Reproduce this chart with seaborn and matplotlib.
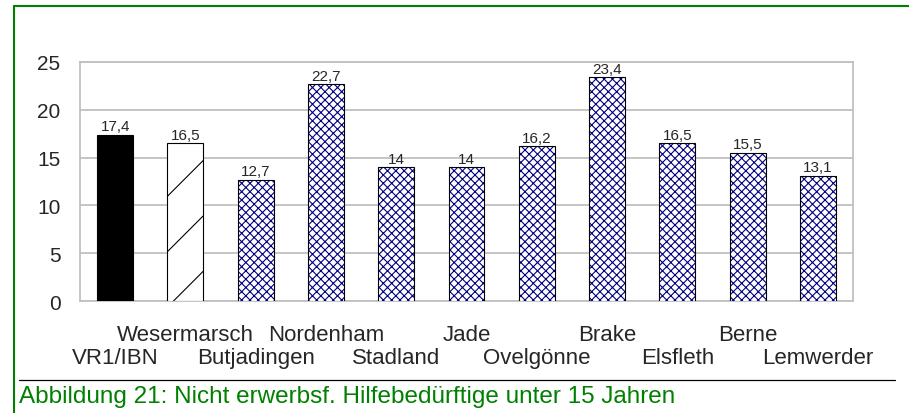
import numpy as np
import pandas as pd
import matplotlib
matplotlib.use("Agg")
import matplotlib.pyplot as plt
from matplotlib.patches import Rectangle
from matplotlib.lines import Line2D
from matplotlib.transforms import IdentityTransform
import seaborn as sns

# Data
CATEGORIES = ["VR1/IBN", "Wesermarsch", "Butjadingen", "Nordenham", "Stadland",
              "Jade", "Ovelgönne", "Brake", "Elsfleth", "Berne", "Lemwerder"]
VALUES = [17.4, 16.5, 12.7, 22.7, 14, 14, 16.2, 23.4, 16.5, 15.5, 13.1]
Y_TICKS = [0, 5, 10, 15, 20, 25]
CAPTION = "Abbildung 21: Nicht erwerbsf. Hilfebedürftige unter 15 Jahren"

# Style
W, H = 909, 414
GREEN = "#008000"
NAVY = "#000080"
GRID = "#c0c0c0"

sns.set_style("white")
plt.rcParams["font.family"] = ["Liberation Sans", "DejaVu Sans"]
plt.rcParams["hatch.linewidth"] = 0.8

fig = plt.figure(figsize=(W / 100, H / 100), dpi=100)
ax = fig.add_axes([80 / W, 1 - 302 / H, 773 / W, 239 / H])

df = pd.DataFrame({"name": CATEGORIES, "value": VALUES})
sns.barplot(data=df, x="name", y="value", color="white", width=0.51,
            edgecolor="black", linewidth=0.8, saturation=1, ax=ax, zorder=3)

ax.set_ylim(0, 25)
ax.set_xlim(-0.5, len(CATEGORIES) - 0.5)
ax.set_yticks(Y_TICKS)
ax.yaxis.grid(True, color=GRID, linewidth=1.3, zorder=0)
ax.set_axisbelow(True)
for sp in ax.spines.values():
    sp.set_visible(True)
    sp.set_color(GRID)
    sp.set_linewidth(1.3)
ax.tick_params(axis="y", length=8, width=1.3, color=GRID, pad=6, labelsize=15)
ax.tick_params(axis="x", length=7, width=1.0, color=GRID, labelsize=16)
ax.set_xlabel("")
ax.set_ylabel("")

# two-row category labels: odd ones on the upper row, even ones below
ax.set_xticks(range(len(CATEGORIES)))
ax.set_xticklabels(CATEGORIES)
for i, tick in enumerate(ax.xaxis.get_major_ticks()):
    tick.set_pad(26 if i % 2 == 0 else 9.5)

bars = list(ax.containers[0])
fig.canvas.draw()
for i, bar in enumerate(bars):
    if i == 0:
        bar.set_facecolor("black")
    elif i == 1:
        # sparse diagonal lines, clipped to the bar
        (x0, y0), (x1, y1) = ax.transData.transform(
            [(bar.get_x(), 0), (bar.get_x() + bar.get_width(), bar.get_height())])
        step, off = 55.4, -6
        k = 0
        while y0 + off + k * step < y1:
            b = y0 + off + k * step
            ln = Line2D([x0, x1], [b, b + (x1 - x0)], transform=IdentityTransform(),
                        color="black", linewidth=0.8, zorder=4)
            ln.set_clip_path(bar)
            fig.add_artist(ln)
            k += 1
    else:
        bar.set_hatch("xxxx")
        bar.set_edgecolor(NAVY)
        bar.set_linewidth(0)
        ax.add_patch(Rectangle((bar.get_x(), 0), bar.get_width(), bar.get_height(),
                               fill=False, edgecolor="black", linewidth=0.8, zorder=4))

labels = [f"{v:g}".replace(".", ",") for v in VALUES]
ax.bar_label(ax.containers[0], labels=labels, padding=1, fontsize=11)

# frame and caption
fig.add_artist(Line2D([14 / W, 14 / W], [0, 1 - 7 / H], color=GREEN, linewidth=1.5))
fig.add_artist(Line2D([14 / W, 1], [1 - 7 / H, 1 - 7 / H], color=GREEN, linewidth=1.5))
fig.add_artist(Line2D([19 / W, 895 / W], [1 - 381 / H, 1 - 381 / H], color="black", linewidth=0.9))
fig.text(19 / W, 1 - 397 / H, CAPTION, color=GREEN, fontsize=17.5, va="center", ha="left")

fig.savefig("out.png", dpi=100)
